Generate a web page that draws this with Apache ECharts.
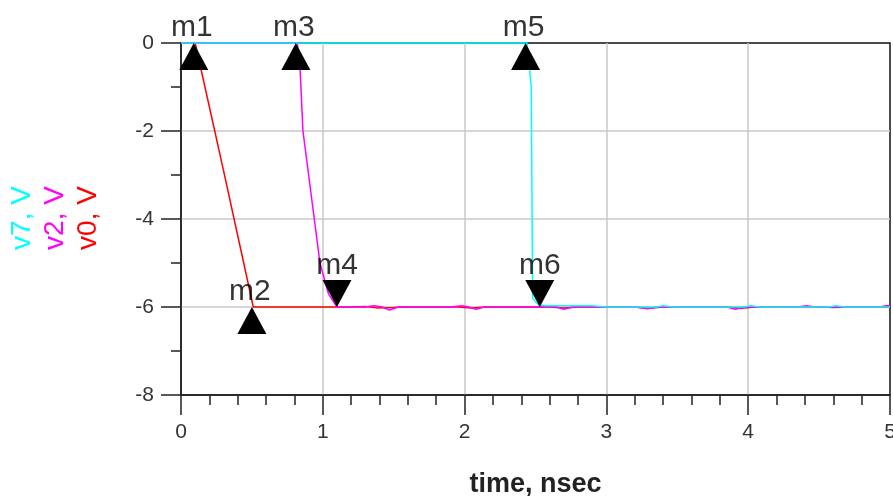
<!DOCTYPE html>
<html>
<head>
<meta charset="utf-8">
<script src="https://cdn.jsdelivr.net/npm/echarts@6/dist/echarts.min.js"></script>
<style>
  html, body { margin: 0; padding: 0; background: #fff; }
  #chart { width: 893px; height: 496px; }
</style>
</head>
<body>
<div id="chart"></div>
<script>
// traces, [time nsec, volts]
var v0Data = [[0,0],[0.1,0],[0.3,-2.9],[0.51,-6],[1.2,-6],[1.3,-5.99],[1.38,-6.02],[1.5,-6.01],[1.6,-6],
  [1.95,-6],[2.05,-6.02],[2.15,-6],[2.6,-6],[2.7,-6.02],[2.8,-6],[3.2,-6],[3.3,-6.03],[3.4,-6],
  [3.85,-6],[3.95,-6.03],[4.05,-6],[4.5,-6],[4.6,-6.01],[4.7,-6],[5,-6]]
var v2Data = [[0,0],[0.82,0],[0.84,-0.6],[0.86,-2],[0.9,-3],[0.94,-4],[0.98,-5],[1.04,-5.7],[1.1,-6],
  [1.3,-6],[1.36,-5.97],[1.42,-6],[1.47,-6.07],[1.53,-6],[1.9,-6],[1.98,-5.97],[2.03,-6],[2.08,-6.05],
  [2.14,-6],[2.6,-6],[2.64,-5.99],[2.7,-6.05],[2.76,-6],[3.2,-6],[3.29,-6.04],[3.36,-6],[3.85,-6],
  [3.91,-6.05],[3.97,-6],[4.35,-6],[4.41,-5.97],[4.47,-6],[4.93,-6],[4.97,-5.97],[5,-5.97]]
var v7Data = [[0,0],[2.44,0],[2.47,-1],[2.48,-5.8],[2.52,-5.95],[2.57,-5.97],[2.9,-5.97],[3.0,-6],
  [3.35,-6],[3.4,-5.97],[3.47,-6],[3.97,-6],[4.02,-5.97],[4.08,-6],[4.57,-6],[4.62,-5.97],[4.68,-6],[5,-6]]

// markers
var markerNames = ['m1','m2','m3','m4','m5','m6']
var markerX = [0.09,0.50,0.81,1.10,2.43,2.53]
var markerY = [0,-6,0,-6,0,-6]
var markerDir = ['up','up','up','down','up','down']

// y axis title lines (left to right)
var yNames = ['v7, V','v2, V','v0, V']
var traceColors = ['#00ffff','#ff00ff','#ff0000']

var font = "'Liberation Sans', Arial, sans-serif"
var chart = echarts.init(document.getElementById('chart'))

var triData = []
var labData = []
for (var i = 0; i < markerNames.length; i++) {
  var down = markerDir[i] === 'down'
  triData.push({
    value: [markerX[i], markerY[i]],
    symbolRotate: down ? 180 : 0,
    symbolOffset: down ? [0, -13.5] : [0, 13.5]
  })
  labData.push({
    value: [markerX[i], markerY[i]],
    name: markerNames[i],
    label: { offset: down ? [0, -41] : [-2, -15] }
  })
}

var graphics = []
for (var k = 0; k < yNames.length; k++) {
  graphics.push({
    type: 'text',
    x: 22 + k * 33,
    y: 218,
    rotation: Math.PI / 2,
    style: {
      text: yNames[k],
      fill: traceColors[k],
      font: '28px ' + font,
      align: 'center',
      verticalAlign: 'middle'
    }
  })
}

function lineSeries(name, data, color) {
  return {
    name: name,
    type: 'line',
    data: data,
    showSymbol: false,
    clip: false,
    lineStyle: { color: color, width: 1.5 },
    itemStyle: { color: color }
  }
}

var gridLine = { showMinLine: false, showMaxLine: false, lineStyle: { color: '#c8c8c8', width: 1.5 } }

chart.setOption({
  animation: false,
  backgroundColor: '#fff',
  textStyle: { fontFamily: font },
  grid: {
    left: 181, right: 3, top: 43, bottom: 101,
    outerBoundsMode: 'none',
    containLabel: false,
    show: true, borderColor: '#111', borderWidth: 1.5
  },
  graphic: graphics,
  xAxis: {
    type: 'value',
    min: 0, max: 5, interval: 1,
    name: 'time, nsec',
    nameLocation: 'middle',
    nameGap: 76,
    nameTextStyle: { fontSize: 27, fontWeight: 'bold', color: '#222', fontFamily: font },
    axisLine: { onZero: false, lineStyle: { color: '#222', width: 1.5 } },
    axisTick: { length: 20, lineStyle: { color: '#222', width: 1.5 } },
    minorTick: { show: true, splitNumber: 5, length: 10, lineStyle: { color: '#222', width: 1.5 } },
    axisLabel: { margin: 27, fontSize: 21, color: '#333', showMaxLabel: true },
    splitLine: gridLine
  },
  yAxis: {
    type: 'value',
    min: -8, max: 0, interval: 2,
    axisLine: { onZero: false, lineStyle: { color: '#222', width: 1.5 } },
    axisTick: { length: 20, lineStyle: { color: '#222', width: 1.5 } },
    minorTick: { show: true, splitNumber: 2, length: 10, lineStyle: { color: '#222', width: 1.5 } },
    axisLabel: { margin: 27, fontSize: 21, color: '#333' },
    splitLine: gridLine
  },
  series: [
    lineSeries('v0', v0Data, '#ff0000'),
    lineSeries('v2', v2Data, '#ff00ff'),
    lineSeries('v7', v7Data, '#00ffff'),
    {
      type: 'scatter',
      data: triData,
      symbol: 'triangle',
      symbolSize: [29, 27],
      itemStyle: { color: '#000', opacity: 1 },
      z: 5
    },
    {
      type: 'scatter',
      data: labData,
      symbolSize: 1,
      itemStyle: { color: 'rgba(0,0,0,0)' },
      label: {
        show: true,
        position: 'inside',
        formatter: '{b}',
        fontSize: 30,
        color: '#000',
        fontFamily: font
      },
      z: 6
    }
  ]
})
</script>
</body>
</html>
